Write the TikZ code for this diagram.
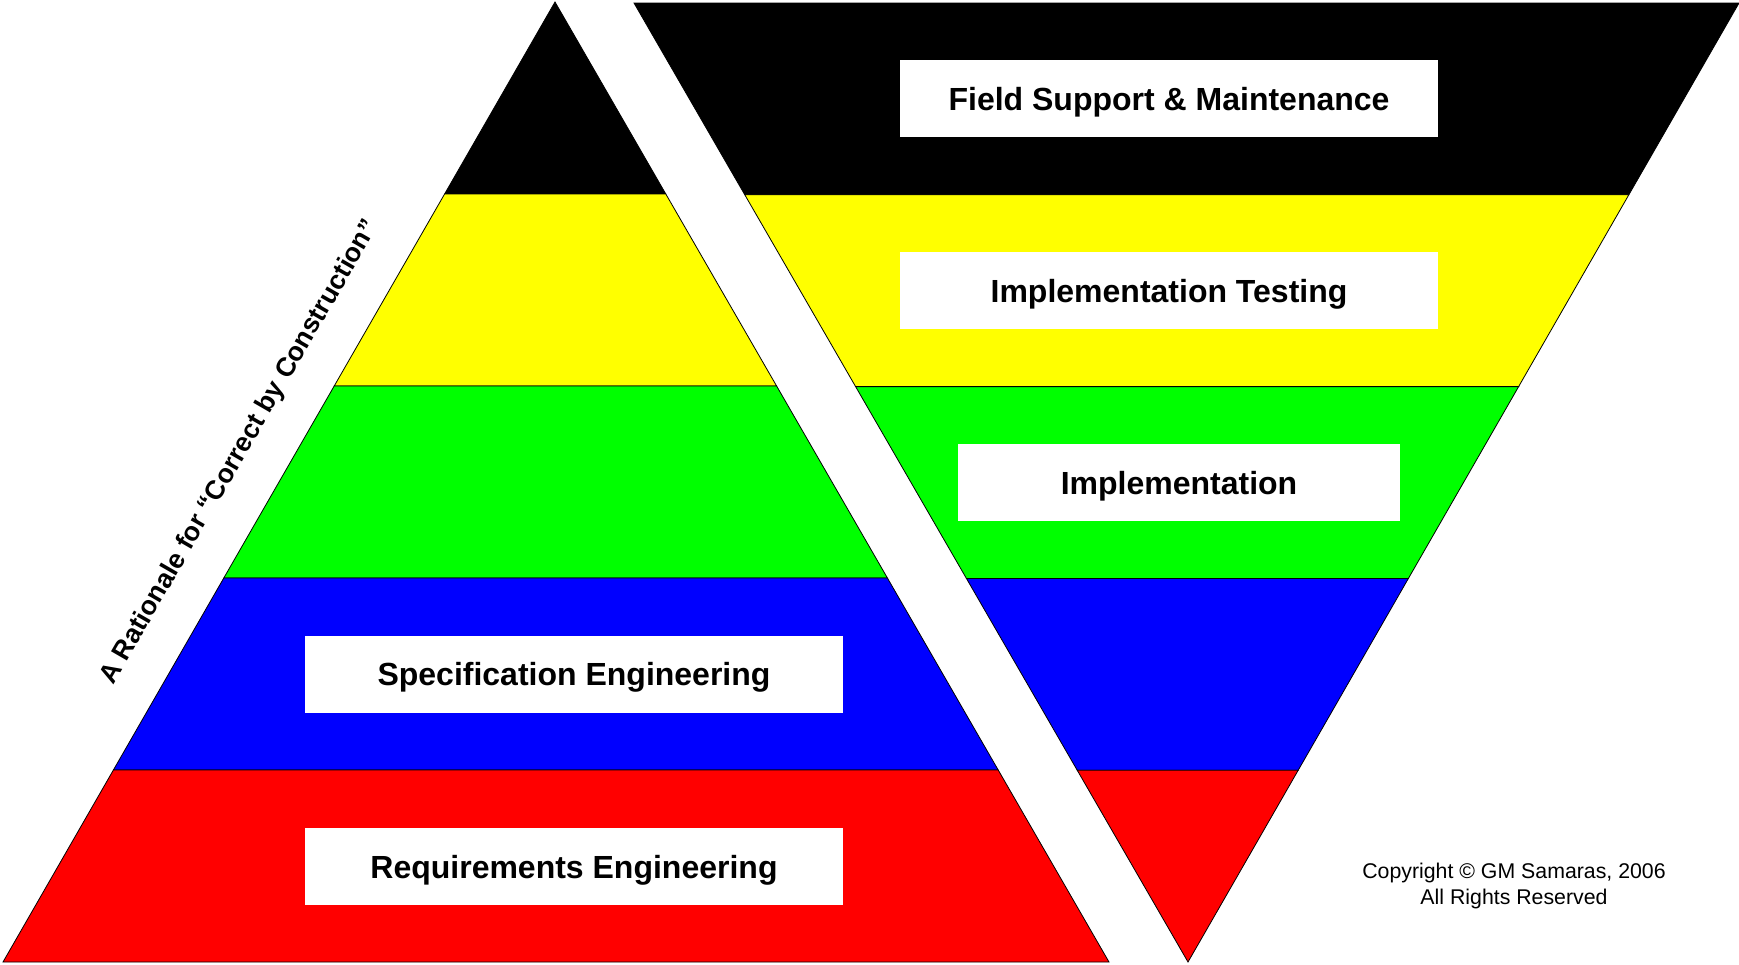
\documentclass[tikz,border=0pt]{standalone}
\usepackage{fontspec}
\setmainfont{Liberation Sans}
\usetikzlibrary{calc}

\definecolor{bandblack}{RGB}{0,0,0}
\definecolor{bandyellow}{RGB}{255,255,0}
\definecolor{bandgreen}{RGB}{0,255,0}
\definecolor{bandblue}{RGB}{0,0,255}
\definecolor{bandred}{RGB}{255,0,0}

\tikzset{
  band/.style={draw=black, line width=0.8pt},
  labelbox/.style={fill=white, minimum width=538, minimum height=77, inner sep=0pt,
    text height=23pt, text depth=0pt, font=\fontsize{32}{38}\selectfont\bfseries},
}

\begin{document}
\begin{tikzpicture}[x=1pt,y=-1pt]
\useasboundingbox (0,0) rectangle (1739,964);

% Pyramid
\coordinate (pyrTop) at (555,2);
\coordinate (pyrLeft) at (3,962);
\coordinate (pyrRight) at (1109,962);
\foreach \col/\a/\b in {bandblack/0/0.2, bandyellow/0.2/0.4, bandgreen/0.4/0.6, bandblue/0.6/0.8, bandred/0.8/1}
  \filldraw[band, fill=\col] ($(pyrTop)!\a!(pyrLeft)$) -- ($(pyrTop)!\b!(pyrLeft)$)
    -- ($(pyrTop)!\b!(pyrRight)$) -- ($(pyrTop)!\a!(pyrRight)$) -- cycle;

% Inverted pyramid
\coordinate (funLeft) at (634,3);
\coordinate (funRight) at (1739,3);
\coordinate (funTip) at (1188,962);
\foreach \col/\a/\b in {bandblack/0/0.2, bandyellow/0.2/0.4, bandgreen/0.4/0.6, bandblue/0.6/0.8, bandred/0.8/1}
  \filldraw[band, fill=\col] ($(funLeft)!\a!(funTip)$) -- ($(funLeft)!\b!(funTip)$)
    -- ($(funRight)!\b!(funTip)$) -- ($(funRight)!\a!(funTip)$) -- cycle;

% Labels
\node[labelbox] (field) at (1169,98.5) {Field Support \& Maintenance};
\node[labelbox] (testing) at (1169,290.5) {Implementation Testing};
\node[labelbox, minimum width=442] (impl) at (1179,482.5) {Implementation};
\node[labelbox] (spec) at (574,674) {Specification Engineering};
\node[labelbox] (req) at (574,866.5) {Requirements Engineering};

% Title and copyright
\node[rotate=60, font=\fontsize{26.7}{32}\selectfont\bfseries] (title) at (240,452)
  {A Rationale for “Correct by Construction”};
\node[align=center, font=\fontsize{21.3}{26}\selectfont] (copy) at (1514,886)
  {Copyright © GM Samaras, 2006\\All Rights Reserved};
\end{tikzpicture}
\end{document}
